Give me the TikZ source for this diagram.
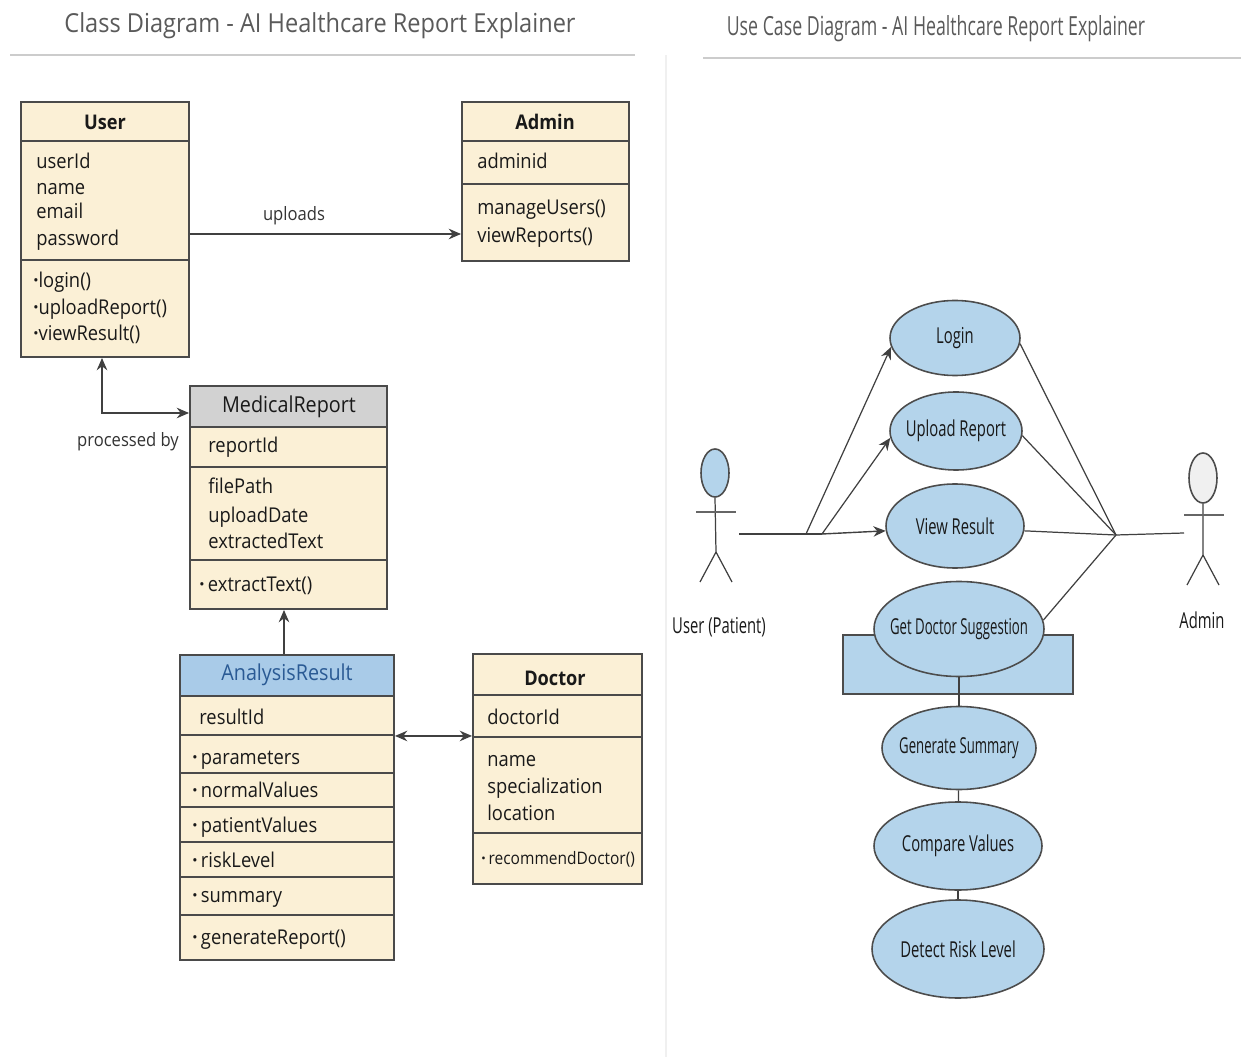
\documentclass[tikz,border=0pt]{standalone}
\usepackage{fontspec}
\setmainfont[FakeStretch=0.9]{Open Sans}
\newfontfamily\narrowfont[FakeStretch=0.674]{Open Sans}
\newfontfamily\narrowerfont[FakeStretch=0.6]{Open Sans}
\usetikzlibrary{fit,shapes.geometric,arrows.meta}

\definecolor{cream}{HTML}{FBF0D6}
\definecolor{edgegray}{HTML}{4A4A4A}
\definecolor{headgray}{HTML}{D2D2D2}
\definecolor{headblue}{HTML}{A9CBE8}
\definecolor{caseblue}{HTML}{B4D4EB}
\definecolor{titlegray}{HTML}{5A5A5A}
\definecolor{resultblue}{HTML}{2A5A94}
\newcommand{\dotmark}{\textbf{\textperiodcentered}}

\tikzset{
  part/.style={draw=edgegray,fill=cream,line width=1.1pt,inner sep=0pt},
  txt/.style={anchor=base west,inner sep=0pt,text=black!90,font=\fontsize{11.6}{14}\selectfont},
  boldtitle/.style={inner sep=0pt,text=black!90,font=\bfseries\fontsize{11.5}{14}\selectfont},
  plaintitle/.style={inner sep=0pt,text=black!90,font=\fontsize{12.5}{15}\selectfont},
  note/.style={inner sep=0pt,text=black!80,font=\fontsize{10.5}{13}\selectfont},
  conn/.style={-{Stealth[length=7pt,width=6pt]},line width=.8pt,draw=black!75},
  twoway/.style={{Stealth[length=7pt,width=6pt]}-{Stealth[length=7pt,width=6pt]},line width=.8pt,draw=black!75},
  case/.style={ellipse,draw=black!70,fill=caseblue,line width=.9pt,inner sep=-30pt,text=black!90,font=\narrowfont\fontsize{12.5}{15}\selectfont},
  wire/.style={line width=.7pt,draw=black!75},
  rule/.style={line width=.9pt,draw=black!20},
  heading/.style={inner sep=0pt,text=titlegray,font=\fontsize{14.9}{18}\selectfont},
  actorlabel/.style={inner sep=0pt,text=black!90,font=\narrowfont\fontsize{12.5}{15}\selectfont}
}

\begin{document}
\begin{tikzpicture}[x=0.02cm,y=-0.02cm]
\useasboundingbox (0,0) rectangle (1241,1057);

% headings
\node[heading] (classhead) at (320,26) {Class Diagram - AI Healthcare Report Explainer};
\node[heading,font=\narrowfont\fontsize{15}{18}\selectfont] (usehead) at (936,29) {Use Case Diagram - AI Healthcare Report Explainer};
\draw[rule] (10,55) -- (635,55);
\draw[rule] (703,58) -- (1241,58);
\draw[draw=black!6,line width=.8pt] (666,55) -- (666,1057);

% user
\node[part,fit={(21,102)(189,141)}] (usertitle) {};
\node[boldtitle] (usertext) at (105,122) {User};
\node[part,fit={(21,141)(189,260)}] (userattr) {};
\node[part,fit={(21,260)(189,357)}] (userops) {};
\foreach \y/\t in {169/userId,195/name,219/email,246/password}
  \node[txt] (user\y) at (36,\y) {\t};
\foreach \y/\t in {288/login(),315/uploadReport(),341/viewResult()}
  \node[txt] (user\y) at (33,\y) {\dotmark\t};

% admin
\node[part,fit={(462,102)(629,141)}] (admintitle) {};
\node[boldtitle] (admintext) at (545,122) {Admin};
\node[part,fit={(462,141)(629,184)}] (adminattr) {};
\node[part,fit={(462,184)(629,261)}] (adminops) {};
\foreach \y/\t in {169/adminid,215/manageUsers(),243/viewReports()}
  \node[txt] (admin\y) at (477,\y) {\t};

% medical report
\node[part,fill=headgray,fit={(190,386)(387,427)}] (reporttitle) {};
\node[plaintitle] (reporttext) at (289,407) {MedicalReport};
\node[part,fit={(190,427)(387,467)}] (reportid) {};
\node[part,fit={(190,467)(387,560)}] (reportattr) {};
\node[part,fit={(190,560)(387,609)}] (reportops) {};
\foreach \y/\t in {453/reportId,494/filePath,522/uploadDate,548/extractedText}
  \node[txt] (report\y) at (208,\y) {\t};
\node[txt] (report591) at (199,591) {\dotmark\,extractText()};

% analysis result
\node[part,fill=headblue,fit={(180,655)(394,696)}] (resulttitle) {};
\node[plaintitle,text=resultblue] (resulttext) at (287,675) {AnalysisResult};
\node[part,fit={(180,696)(394,735)}] (resultid) {};
\foreach \a/\b in {735/773,773/807,807/842,842/877,877/915,915/960}
  \node[part,fit={(180,\a)(394,\b)}] (result\a) {};
\node[txt] (result724) at (199,724) {resultId};
\foreach \y/\t in {764/parameters,797/normalValues,832/patientValues,867/riskLevel,902/summary,944/generateReport()}
  \node[txt] (result\y) at (192,\y) {\dotmark\,\t};

% doctor
\node[part,fit={(473,654)(642,695)}] (doctortitle) {};
\node[boldtitle] (doctortext) at (555,678) {Doctor};
\node[part,fit={(473,695)(642,737)}] (doctorid) {};
\node[part,fit={(473,737)(642,833)}] (doctorattr) {};
\node[part,fit={(473,833)(642,884)}] (doctorops) {};
\foreach \y/\t in {724/doctorId,766/name,793/specialization,820/location}
  \node[txt] (doctor\y) at (487,\y) {\t};
\node[txt,font=\fontsize{9.8}{12}\selectfont] (doctor864) at (481,864) {\dotmark\,recommendDoctor()};

% class links
\draw[conn] (userattr.east |- 0,234) -- (adminops.west |- 0,234);
\node[note] (uploadslabel) at (294,216) {uploads};
\coordinate (bend) at (102,413);
\draw[twoway] (userops.south -| bend) -- (bend) -- (reporttitle.west |- bend);
\node[note] (processedlabel) at (128,442) {processed by};
\draw[conn] (resulttitle.north -| 284,0) -- (reportops.south -| 284,0);
\draw[twoway] (resultid.south east) -- (doctorid.west |- resultid.south east);

% use cases
\node[draw=black!70,fill=caseblue,line width=.9pt,inner sep=0pt,fit={(843,635)(1073,694)}] (packbox) {};
\node[case,minimum width=130*0.02cm,minimum height=75*0.02cm] (login) at (955,338) {Login};
\node[case,minimum width=132*0.02cm,minimum height=78*0.02cm] (upload) at (956,431) {Upload Report};
\node[case,minimum width=138*0.02cm,minimum height=84*0.02cm] (view) at (955,526) {View Result};
\node[case,font=\narrowerfont\fontsize{12.5}{15}\selectfont,minimum width=170*0.02cm,minimum height=95*0.02cm] (suggest) at (959,629) {Get Doctor Suggestion};
\node[case,font=\narrowerfont\fontsize{12.5}{15}\selectfont,minimum width=154*0.02cm,minimum height=83*0.02cm] (summary) at (959,748) {Generate Summary};
\node[case,minimum width=168*0.02cm,minimum height=88*0.02cm] (compare) at (958,846) {Compare Values};
\node[case,minimum width=172*0.02cm,minimum height=98*0.02cm] (detect) at (958,949) {Detect Risk Level};
\draw[wire] (suggest) -- (summary);
\draw[wire] (summary) -- (compare);
\draw[wire] (compare) -- (detect);

% actors
\node[draw=black!70,fill=caseblue,ellipse,line width=.9pt,minimum width=28*0.02cm,minimum height=48*0.02cm] (patient) at (715,473) {};
\node[draw=black!70,fill=black!6,ellipse,line width=.9pt,minimum width=28*0.02cm,minimum height=50*0.02cm] (adminactor) at (1203,478) {};
\node[actorlabel] (patientlabel) at (719,627) {User (Patient)};
\node[actorlabel] (adminlabel) at (1202,620) {Admin};
\coordinate (patienthip) at (716,552);
\coordinate (adminhip) at (1203,555);
\draw[wire] (patient.south) -- (patienthip) -- (700,582);
\draw[wire] (patienthip) -- (732,582);
\draw[black!60,line width=1.2pt] (696,512) -- (736,512);
\draw[wire] (adminactor.south) -- (adminhip) -- (1187,585);
\draw[wire] (adminhip) -- (1219,585);
\draw[black!60,line width=1.2pt] (1184,515) -- (1224,515);

% use case links
\coordinate (patienthand) at (739,534);
\coordinate (splitone) at (806,534);
\coordinate (splittwo) at (822,534);
\coordinate (hub) at (1116,535);
\coordinate (adminhand) at (1184,533);
\draw[wire] (patienthand) -- (splittwo);
\draw[conn,line width=.7pt] (splitone) -- (login.188);
\draw[conn,line width=.7pt] (splittwo) -- (upload.186);
\draw[conn] (splittwo) -- (view.184);
\draw[wire] (login.355) -- (hub);
\draw[wire] (upload.356) -- (hub);
\draw[wire] (view.356) -- (hub);
\draw[wire] (suggest.6) -- (hub);
\draw[wire] (hub) -- (adminhand);
\end{tikzpicture}
\end{document}
